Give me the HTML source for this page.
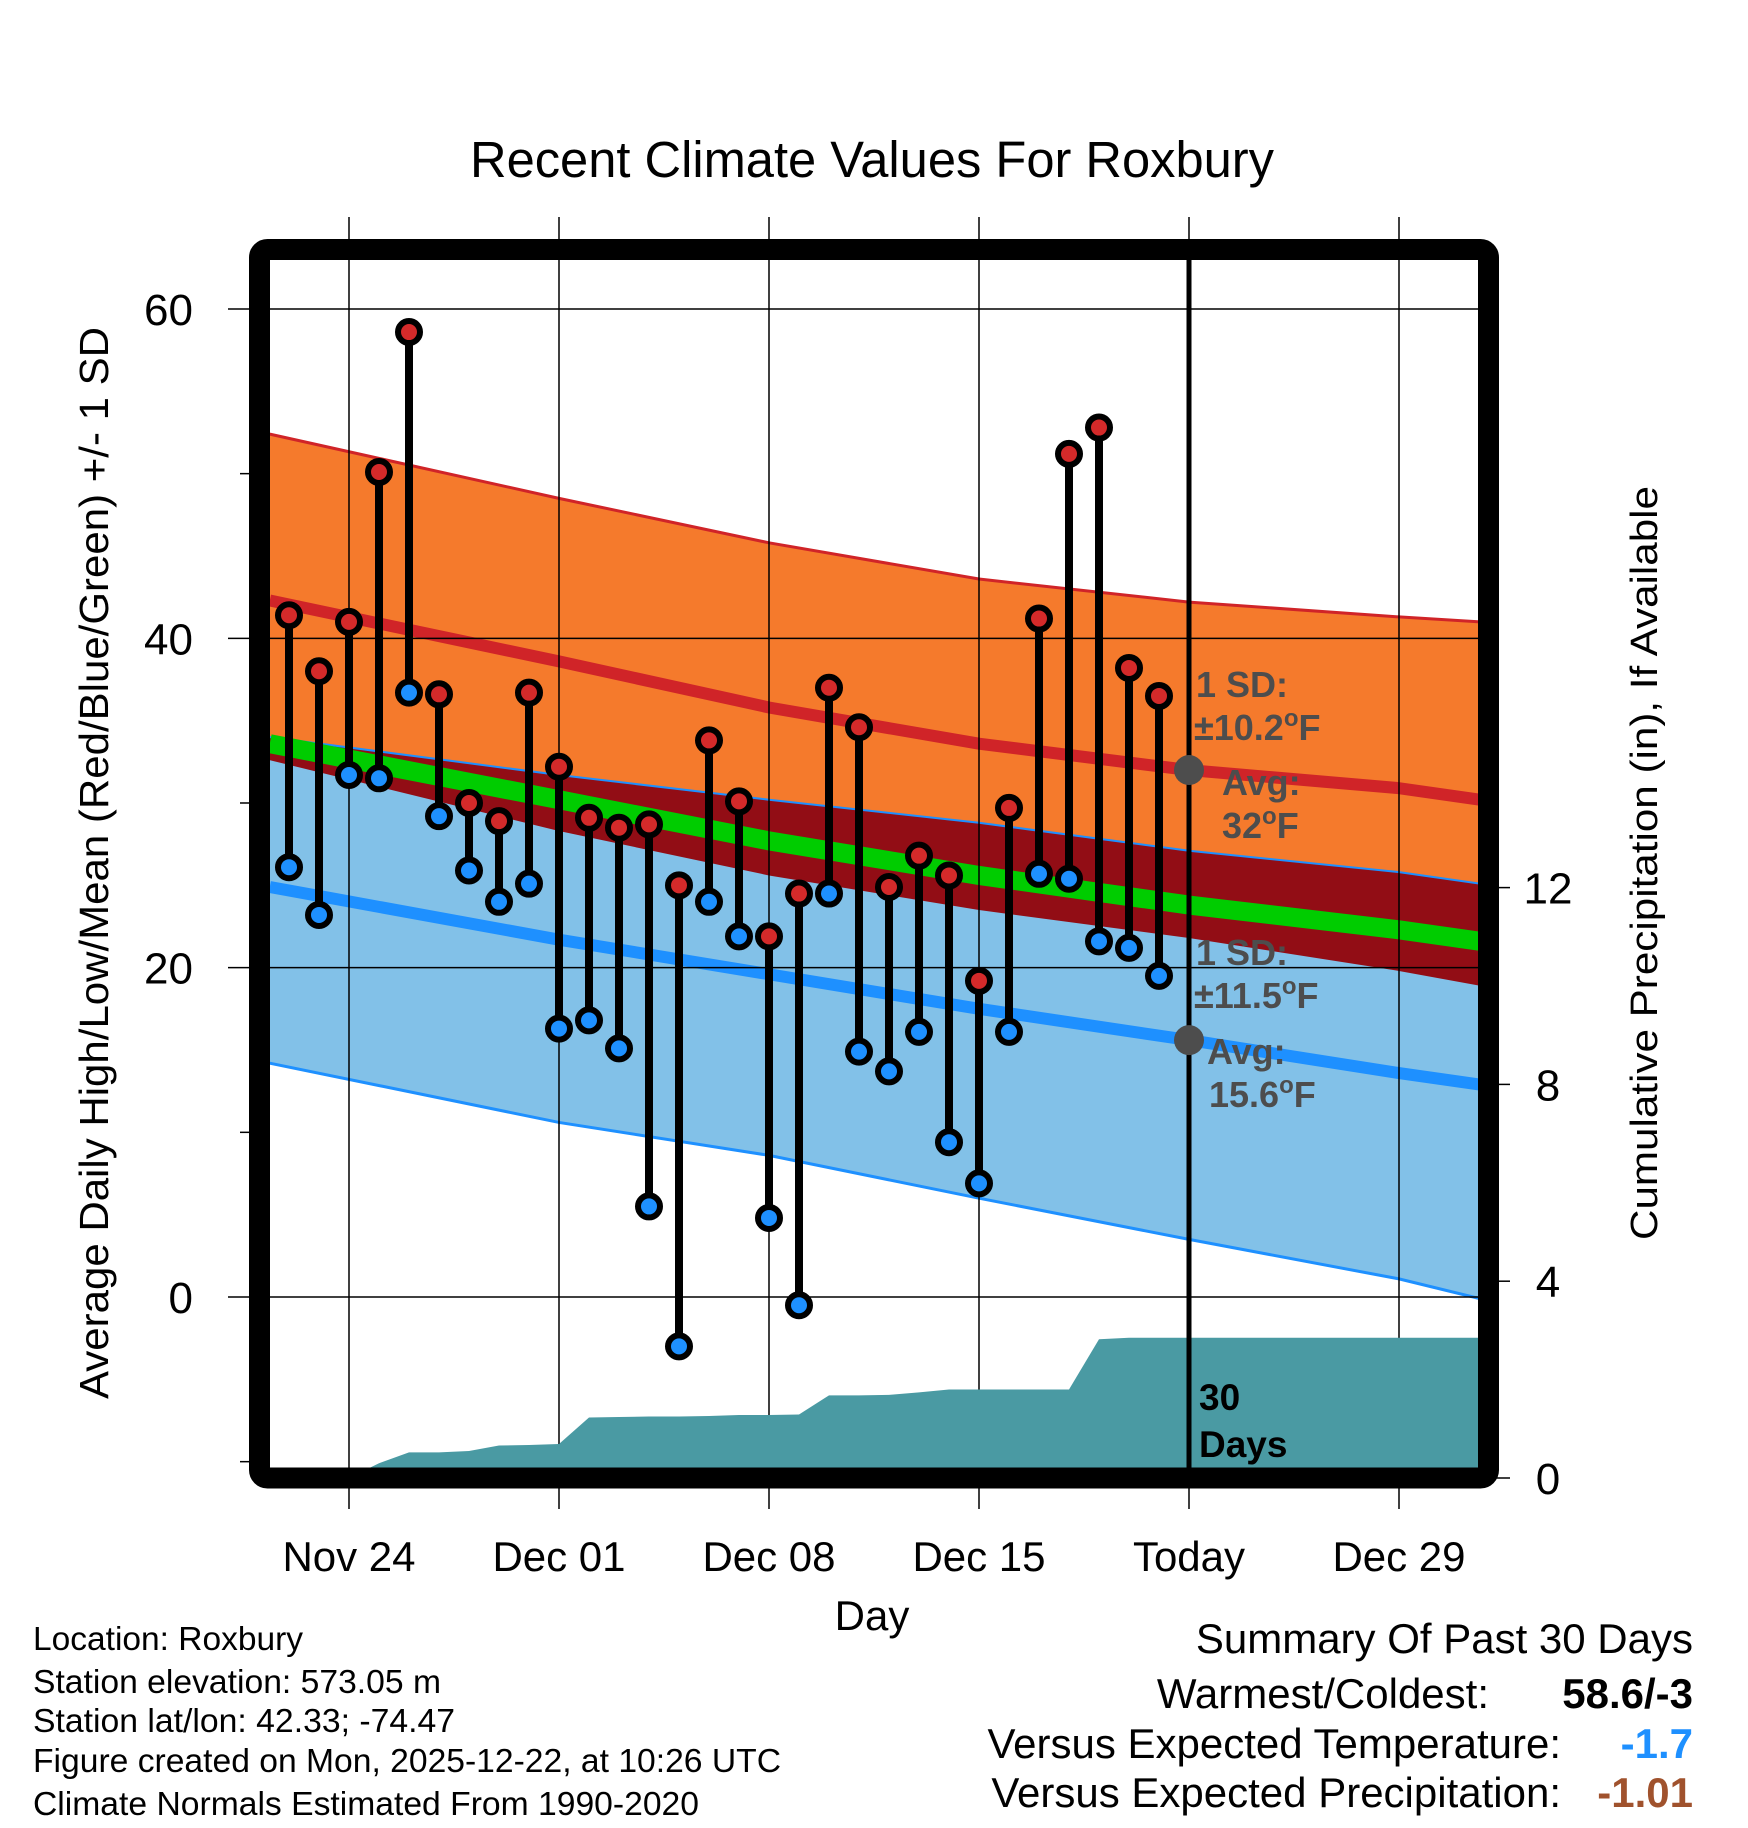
<!DOCTYPE html>
<html><head><meta charset="utf-8"><style>
html,body{margin:0;padding:0;background:#fff}
svg{display:block;font-family:"Liberation Sans",sans-serif}
</style></head><body>
<svg id="chart" width="1748" height="1828" viewBox="0 0 1748 1828">
<text x="872" y="177" font-size="51" text-anchor="middle" textLength="804" lengthAdjust="spacingAndGlyphs">Recent Climate Values For Roxbury</text>
<defs><clipPath id="plotclip"><rect x="270" y="260" width="1208" height="1208"/></clipPath></defs>
<g id="fills" clip-path="url(#plotclip)"></g>
<g id="grid"></g>
<g id="precip" clip-path="url(#plotclip)"></g>
<g id="marks"></g>
<g id="annot"></g>
<rect x="259.5" y="249.5" width="1229" height="1228.5" rx="8" fill="none" stroke="#000" stroke-width="21"/>
<text transform="translate(108,863) rotate(-90)" font-size="41" text-anchor="middle" textLength="1072" lengthAdjust="spacingAndGlyphs">Average Daily High/Low/Mean (Red/Blue/Green) +/- 1 SD</text>
<text transform="translate(1657,863) rotate(-90)" font-size="38" text-anchor="middle" textLength="754" lengthAdjust="spacingAndGlyphs">Cumulative Precipitation (in), If Available</text>
<text x="872" y="1630" font-size="42" text-anchor="middle">Day</text>
<g font-size="33">
<text x="33" y="1650" textLength="270" lengthAdjust="spacingAndGlyphs">Location: Roxbury</text>
<text x="33" y="1693" textLength="408" lengthAdjust="spacingAndGlyphs">Station elevation: 573.05 m</text>
<text x="33" y="1732" textLength="422" lengthAdjust="spacingAndGlyphs">Station lat/lon: 42.33; -74.47</text>
<text x="33" y="1772" textLength="748" lengthAdjust="spacingAndGlyphs">Figure created on Mon, 2025-12-22, at 10:26 UTC</text>
<text x="33" y="1815" textLength="666" lengthAdjust="spacingAndGlyphs">Climate Normals Estimated From 1990-2020</text>
</g>
<g font-size="42" text-anchor="end">
<text x="1693" y="1653">Summary Of Past 30 Days</text>
<text x="1489" y="1708">Warmest/Coldest:</text>
<text x="1693" y="1708" font-weight="bold">58.6/-3</text>
<text x="1561" y="1758">Versus Expected Temperature:</text>
<text x="1693" y="1758" font-weight="bold" fill="#1e90ff">-1.7</text>
<text x="1561" y="1807">Versus Expected Precipitation:</text>
<text x="1693" y="1807" font-weight="bold" fill="#a0522d">-1.01</text>
</g>
</svg>
<script>
// daily observations Nov22..Dec21 (day index 0 = Nov 22)
const highs=[41.4,38.0,41.0,50.1,58.6,36.6,30.0,28.9,36.7,32.2,29.1,28.5,28.7,25.0,33.8,30.1,21.9,24.5,37.0,34.6,24.9,26.8,25.6,19.2,29.7,41.2,51.2,52.8,38.2,36.5];
const lows=[26.1,23.2,31.7,31.5,36.7,29.2,25.9,24.0,25.1,16.3,16.8,15.1,5.5,-3.0,24.0,21.9,4.8,-0.5,24.5,14.9,13.7,16.1,9.4,6.9,16.1,25.7,25.4,21.6,21.2,19.5];
const precip=[0,0,0,0.3,0.52,0.52,0.55,0.66,0.67,0.69,1.23,1.24,1.25,1.25,1.26,1.28,1.28,1.29,1.68,1.68,1.69,1.74,1.80,1.80,1.80,1.80,1.80,2.82,2.85,2.85];
// normals sampled at day offsets (from Nov 22)
const normDays=[-0.64,9,16,23,30,37,39.7];
const hiUpper=[52.4,48.5,45.8,43.6,42.2,41.3,41.0];
const hiMean=[42.3,38.6,35.8,33.6,32.0,30.9,30.2];
const hiLower=[32.6,28.3,25.6,23.5,21.8,19.8,18.9];
const loUpper=[34.0,31.7,30.2,28.8,27.1,25.8,25.1];
const loMean=[24.9,21.7,19.6,17.5,15.6,13.6,12.9];
const loLower=[14.2,10.6,8.6,6.0,3.5,1.1,-0.1];
const avgMean=[33.6,30.2,27.7,25.6,23.8,22.3,21.6];
const xTickDays=[2,9,16,23,30,37];
const xTickLabels=["Nov 24","Dec 01","Dec 08","Dec 15","Today","Dec 29"];
const yTicks=[60,40,20,0];
const yMinor=[50,30,10,-10];
const y2Ticks=[0,4,8,12];

const NS="http://www.w3.org/2000/svg";
const X=d=>289+d*30;
const Y=v=>1297-v*16.467;
const Y2=p=>1478-p*49.2;
function mk(tag,attrs,parent){const e=document.createElementNS(NS,tag);for(const k in attrs)e.setAttribute(k,attrs[k]);parent.appendChild(e);return e;}
const fills=document.getElementById('fills'),grid=document.getElementById('grid'),pg=document.getElementById('precip'),marks=document.getElementById('marks'),annot=document.getElementById('annot');
const line=arr=>normDays.map((d,i)=>X(d)+','+Y(arr[i])).join(' ');
const band=(a,b)=>line(a)+' '+normDays.map((d,i)=>X(d)+','+Y(b[i])).reverse().join(' ');
let e;
e=mk('polygon',{points:band(hiUpper,hiLower),fill:'#f57a2c'},fills);

e=mk('polygon',{points:band(loUpper,loLower),fill:'#82c1e8'},fills);

e=mk('polygon',{points:band(loUpper,hiLower),fill:'#920d15'},fills);

e=mk('polyline',{points:line(hiUpper),fill:'none',stroke:'#d02428',"stroke-width":3},fills);

e=mk('polyline',{points:line(loUpper),fill:'none',stroke:'#1e90ff',"stroke-width":2},fills);

e=mk('polyline',{points:line(loLower),fill:'none',stroke:'#1e90ff',"stroke-width":3},fills);

e=mk('polyline',{points:line(avgMean),fill:'none',stroke:'#00cc00',"stroke-width":19},fills);

e=mk('polyline',{points:line(hiMean),fill:'none',stroke:'#d02428',"stroke-width":12},fills);

e=mk('polyline',{points:line(loMean),fill:'none',stroke:'#1e90ff',"stroke-width":12},fills);


xTickDays.forEach((d,i)=>{
  e=mk('line',{x1:X(d),x2:X(d),y1:217,y2:1509,stroke:'#000',"stroke-width":1.5},grid);
  
  e=mk('text',{x:X(d),y:1571,"font-size":42,"text-anchor":"middle"},grid);e.textContent=xTickLabels[i];
  
});
yTicks.forEach(v=>{
  e=mk('line',{x1:228,x2:1478,y1:Y(v),y2:Y(v),stroke:'#000',"stroke-width":1.5},grid);
  
  e=mk('text',{x:193,y:Y(v)+16,"font-size":44,"text-anchor":"end"},grid);e.textContent=v;
  
});
yMinor.forEach(v=>{
  e=mk('line',{x1:240,x2:252,y1:Y(v),y2:Y(v),stroke:'#000',"stroke-width":1.5},grid);
  
});
y2Ticks.forEach(p=>{
  e=mk('line',{x1:1495,x2:1510,y1:Y2(p),y2:Y2(p),stroke:'#000',"stroke-width":1.5},grid);
  
  e=mk('text',{x:1548,y:Y2(p)+16,"font-size":44,"text-anchor":"middle"},grid);e.textContent=p;
  
});

let pts=[X(0)+','+Y2(0)];
precip.forEach((p,i)=>pts.push(X(i)+','+Y2(p)));
pts.push('1490,'+Y2(precip[precip.length-1]),'1490,'+Y2(0));
e=mk('polygon',{points:pts.join(' '),fill:'#4a9aa3'},pg);


highs.forEach((h,i)=>{
  e=mk('line',{x1:X(i),x2:X(i),y1:Y(h),y2:Y(lows[i]),stroke:'#000',"stroke-width":8},marks);
  
});
highs.forEach((h,i)=>{
  e=mk('circle',{cx:X(i),cy:Y(h),r:11,fill:'#d42a2a',stroke:'#000',"stroke-width":6},marks);
  
  e=mk('circle',{cx:X(i),cy:Y(lows[i]),r:11,fill:'#1e90ff',stroke:'#000',"stroke-width":6},marks);
  
});

e=mk('line',{x1:X(30),x2:X(30),y1:260,y2:1468,stroke:'#000',"stroke-width":5},annot);

e=mk('circle',{cx:X(30),cy:Y(32),r:15,fill:'#4d4d4d'},annot);

e=mk('circle',{cx:X(30),cy:Y(15.6),r:15,fill:'#4d4d4d'},annot);

const labels=[["1 SD:",1196,697,""],["±10.2",1194,740,"F"],["Avg:",1222,795,""],["32",1222,838,"F"],["1 SD:",1196,965,""],["±11.5",1194,1008,"F"],["Avg:",1207,1064,""],["15.6",1209,1107,"F"]];
labels.forEach(l=>{
  e=mk('text',{x:l[1],y:l[2],"font-size":36,"font-weight":"bold",fill:'#4d4d4d'},annot);
  
  e.appendChild(document.createTextNode(l[0]));
  if(l[3]){const s=mk('tspan',{dy:-14,"font-size":24},e);s.textContent="o";const f=mk('tspan',{dy:14},e);f.textContent=l[3];}
});
e=mk('text',{x:1199,y:1410,"font-size":37,"font-weight":"bold"},annot);e.textContent="30";

e=mk('text',{x:1199,y:1457,"font-size":37,"font-weight":"bold"},annot);e.textContent="Days";

</script>
</body></html>
